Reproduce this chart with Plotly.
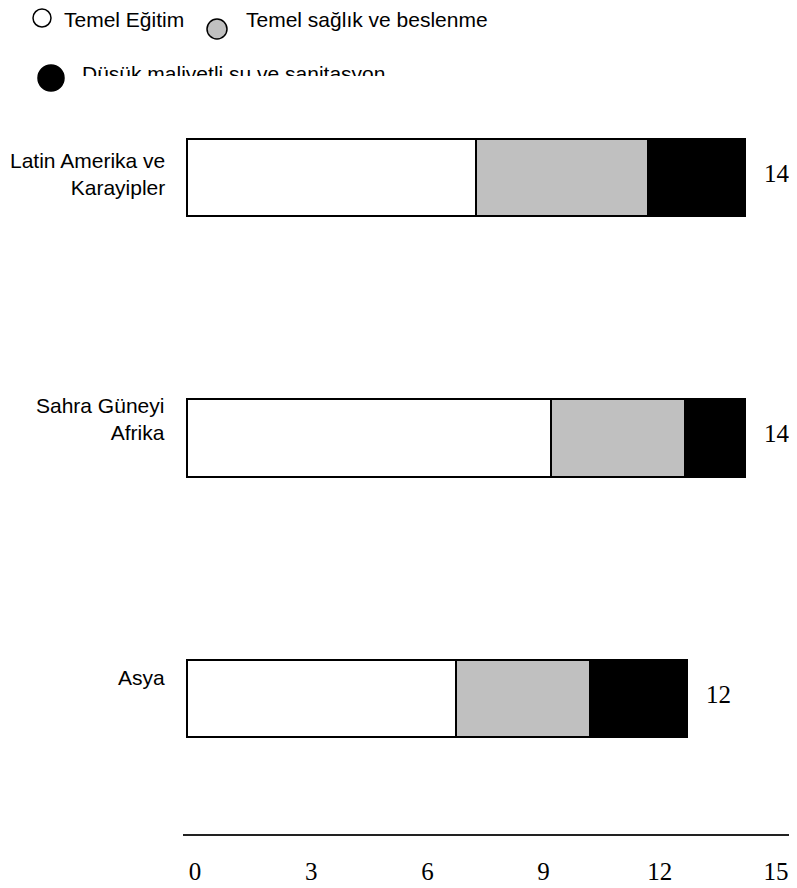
import plotly.graph_objects as go

# Data
categories = ["Latin Amerika ve<br>Karayipler", "Sahra Güneyi<br>Afrika", "Asya"]
series_names = ["Temel Eğitim", "Temel sağlık ve beslenme", "Düşük maliyetli su ve sanitasyon"]
temel_egitim = [7.45, 9.4, 6.95]
temel_saglik = [4.45, 3.45, 3.45]
dusuk_maliyetli_su = [2.5, 1.55, 2.5]
total_labels = ["14", "14", "12"]
x_ticks = [0, 3, 6, 9, 12, 15]

# the page body has an 8px margin, so the figure is drawn 8px in from the corner
OFF = 8
W, H = 797 - OFF, 888 - OFF
M_L, M_R, M_T, M_B = 175, 0, 92, 54
PW, PH = W - M_L - M_R, H - M_T - M_B
UNIT = 38.73  # pixels per axis unit


def px(x):
    # page x -> paper coordinate
    return (x - OFF - M_L) / PW


def py(y):
    # page y -> paper coordinate
    return (H - M_B - (y - OFF)) / PH


colors = ["#ffffff", "#c0c0c0", "#000000"]
sans = "Liberation Sans"
serif = "Liberation Serif"

fig = go.Figure()
for name, vals, col in zip(series_names, [temel_egitim, temel_saglik, dusuk_maliyetli_su], colors):
    fig.add_trace(go.Bar(
        y=categories, x=vals, name=name, orientation="h",
        marker=dict(color=col, line=dict(color="#000000", width=2)),
        width=0.297, showlegend=False,
    ))

totals = [a + b + c for a, b, c in zip(temel_egitim, temel_saglik, dusuk_maliyetli_su)]

annotations = []
# value labels at the end of each bar
for cat, tot, lab in zip(categories, totals, total_labels):
    annotations.append(dict(
        x=tot, y=cat, xref="x", yref="y", text=lab, showarrow=False,
        xanchor="left", xshift=17, yshift=4,
        font=dict(family=serif, size=25, color="#000000"),
    ))

# category labels left of the bars
for cat, ys in zip(categories, [4, 19, 21]):
    annotations.append(dict(
        x=0, y=cat, xref="paper", yref="y", text=cat, showarrow=False,
        xanchor="right", align="right", xshift=-16, yshift=ys,
        font=dict(family=sans, size=21, color="#000000"),
    ))

# legend texts
legend_font = dict(family=sans, size=21, color="#000000")
annotations.append(dict(x=px(63), y=py(19), xref="paper", yref="paper", text=series_names[0],
                        showarrow=False, xanchor="left", yanchor="middle", borderpad=0,
                        font=legend_font))
annotations.append(dict(x=px(245), y=py(19), xref="paper", yref="paper", text=series_names[1],
                        showarrow=False, xanchor="left", yanchor="middle", borderpad=0,
                        font=legend_font))
annotations.append(dict(x=px(80), y=py(60), xref="paper", yref="paper", text=series_names[2],
                        showarrow=False, xanchor="left", yanchor="top", valign="top", height=14,
                        font=legend_font))

shapes = []
for (cx, cy, r), col in zip([(42, 18, 9), (217, 29, 10), (51, 78, 13)], colors):
    shapes.append(dict(
        type="circle", xref="paper", yref="paper", xsizemode="pixel", ysizemode="pixel",
        xanchor=px(cx), yanchor=py(cy), x0=-r, x1=r, y0=-r, y1=r,
        fillcolor=col, line=dict(color="#000000", width=1.5),
    ))

fig.update_layout(
    barmode="stack",
    width=W, height=H,
    margin=dict(l=M_L, r=M_R, t=M_T, b=M_B, pad=0),
    plot_bgcolor="#ffffff", paper_bgcolor="#ffffff",
    annotations=annotations, shapes=shapes,
    xaxis=dict(
        range=[-4 / UNIT, -4 / UNIT + PW / UNIT],
        tickvals=x_ticks, ticktext=[str(t) for t in x_ticks],
        showgrid=False, zeroline=False,
        showline=True, linecolor="#222222", linewidth=2,
        ticks="", ticklabelshift=8, ticklabelstandoff=14,
        tickfont=dict(family=serif, size=25, color="#000000"),
        fixedrange=True,
    ),
    yaxis=dict(
        type="category", categoryorder="array", categoryarray=categories,
        range=[2.522, -0.299],
        showticklabels=False, showgrid=False, zeroline=False, showline=False, ticks="",
        fixedrange=True,
    ),
)

fig.write_html("out.html")
